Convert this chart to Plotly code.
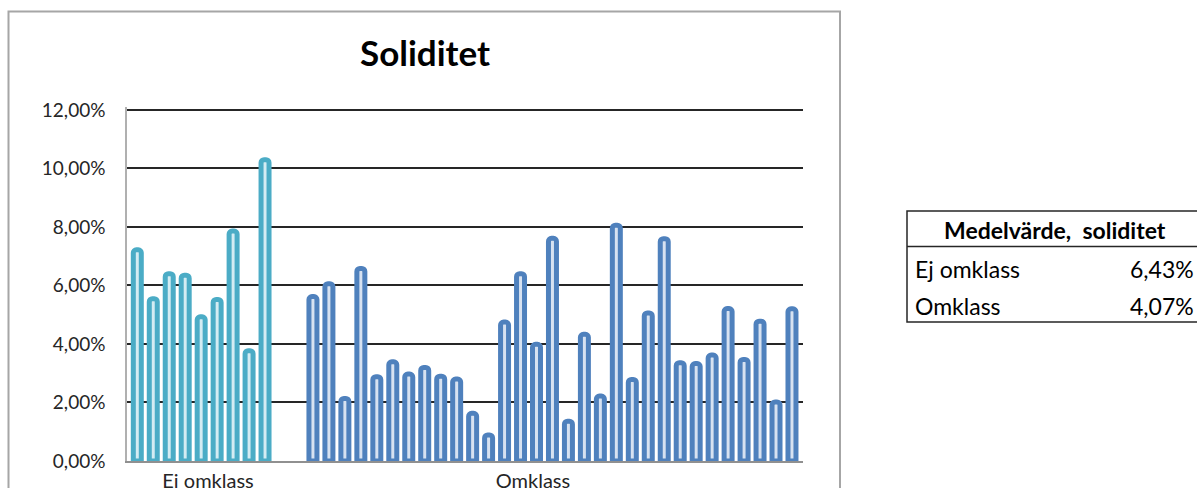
import plotly.graph_objects as go

# Soliditet per company, split into two groups
groups = ["Ej omklass", "Omklass"]
ej_omklass = [7.22, 5.55, 6.40, 6.35, 4.93, 5.52, 7.86, 3.77, 10.30]
omklass = [5.62, 6.06, 2.14, 6.58, 2.88, 3.39, 2.97, 3.20, 2.90, 2.80,
           1.63, 0.89, 4.75, 6.40, 3.99, 7.61, 1.36, 4.33, 2.22, 8.06,
           2.79, 5.06, 7.60, 3.36, 3.33, 3.62, 5.21, 3.47, 4.78, 2.02, 5.20]
y_ticks = [0, 0.02, 0.04, 0.06, 0.08, 0.10, 0.12]

ej_vals = [v / 100 for v in ej_omklass]
om_vals = [v / 100 for v in omklass]
gap_slots = 2
ej_x = list(range(len(ej_vals)))
om_x = [len(ej_vals) + gap_slots + i for i in range(len(om_vals))]

mean_ej = sum(ej_vals) / len(ej_vals)
mean_om = sum(om_vals) / len(om_vals)

W, H = 1197, 488
L, R, T, B = 127, 803, 107, 461
Y_TOP = 0.121
FONT = "Lato"


def px(x):
    return (x - L) / (R - L)


def py(y):
    return (B - y) / (B - T)


def pct(v):
    return f"{v * 100:.2f}%".replace(".", ",")


fig = go.Figure()
fig.add_trace(go.Bar(
    x=ej_x, y=ej_vals, width=0.5, name=groups[0],
    marker=dict(color="#D4ECF3", line=dict(color="#4BACC6", width=5), cornerradius=3),
))
fig.add_trace(go.Bar(
    x=om_x, y=om_vals, width=0.5, name=groups[1],
    marker=dict(color="#D7E2F1", line=dict(color="#4F81BD", width=5), cornerradius=3),
))

fig.update_layout(
    width=W, height=H,
    margin=dict(l=L, r=W - R, t=T, b=H - B, pad=0, autoexpand=False),
    paper_bgcolor="white", plot_bgcolor="white",
    barmode="overlay", showlegend=False,
    separators=", ",
    font=dict(family=FONT, color="#262626"),
)

fig.update_yaxes(
    range=[0, Y_TOP], tickvals=y_ticks, tickformat=".2%",
    showgrid=True, gridcolor="#262626", gridwidth=2,
    zeroline=False, showline=True, linecolor="#B0B0B0", linewidth=1.5,
    tickfont=dict(size=19, family=FONT, color="#262626"),
    ticks="", ticklabelstandoff=16, automargin=False,
)
fig.update_xaxes(
    range=[-0.645, om_x[-1] + 0.69],
    tickvals=[4.43, 24.78], ticktext=groups,
    showgrid=False, zeroline=False,
    showline=True, linecolor="#909090", linewidth=2,
    tickfont=dict(size=20, family=FONT, color="#262626"),
    ticks="", ticklabelstandoff=1, automargin=False,
)

shapes = []
# chart area frame
shapes.append(dict(type="rect", xref="paper", yref="paper",
                   x0=px(8.5), x1=px(840), y0=py(540), y1=py(11.5),
                   line=dict(color="#A6A6A6", width=2), layer="below"))
# summary table frame
shapes.append(dict(type="rect", xref="paper", yref="paper",
                   x0=px(907), x1=px(1215), y0=py(322), y1=py(211),
                   line=dict(color="#262626", width=1.5)))
shapes.append(dict(type="line", xref="paper", yref="paper",
                   x0=px(907), x1=px(1215), y0=py(246.5), y1=py(246.5),
                   line=dict(color="#262626", width=1.5)))
fig.update_layout(shapes=shapes)

ann = [
    dict(text="<b>Soliditet</b>", x=px(425), y=py(52), font=dict(size=35, color="black")),
    dict(text="<b>Medelvärde,  soliditet</b>", x=px(1055), y=py(230), font=dict(size=23, color="black")),
    dict(text=groups[0], x=px(913), y=py(269), xanchor="left", font=dict(size=23, color="black")),
    dict(text=pct(mean_ej), x=px(1196), y=py(269), xanchor="right", font=dict(size=23, color="black")),
    dict(text=groups[1], x=px(913), y=py(306), xanchor="left", font=dict(size=23, color="black")),
    dict(text=pct(mean_om), x=px(1196), y=py(306), xanchor="right", font=dict(size=23, color="black")),
]
for a in ann:
    a.setdefault("xanchor", "center")
    a.update(xref="paper", yref="paper", yanchor="middle", showarrow=False)
    a["font"]["family"] = FONT
fig.update_layout(annotations=ann)

fig.write_html("out.html")
